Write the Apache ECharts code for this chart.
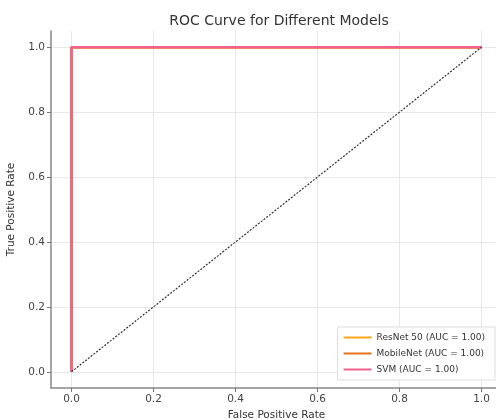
<!DOCTYPE html>
<html lang="en">
<head>
    <meta charset="utf-8" />
    <title>ROC Curve</title>
    <script type="text/javascript" src="https://cdn.jsdelivr.net/npm/echarts@6/dist/echarts.min.js"></script>
    <style type="text/css">
        body { margin: 0; background: #fff; }
    </style>
</head>
<body>
    <div id="main" style="width:496px;height:420px;"></div>
    <script type="text/javascript">
        // ROC points (fpr, tpr)
        var modelNames = ['ResNet 50 (AUC = 1.00)', 'MobileNet (AUC = 1.00)', 'SVM (AUC = 1.00)'];
        var modelColors = ['#ffa41b', '#e8731c', '#f0628a'];
        var fprResNet = [0, 0, 1];
        var tprResNet = [0, 1, 1];
        var fprMobile = [0, 0, 1];
        var tprMobile = [0, 1, 1];
        var fprSvm = [0, 0, 1];
        var tprSvm = [0, 1, 1];
        var chanceLine = [[0, 0], [1, 1]];
        var tickValues = [0, 0.2, 0.4, 0.6, 0.8, 1.0];

        function pairs(xs, ys) {
            var out = [];
            for (var i = 0; i < xs.length; i++) out.push([xs[i], ys[i]]);
            return out;
        }

        var myChart = echarts.init(document.getElementById('main'));
        var fontName = 'DejaVu Sans';

        function axisCfg(name, gap) {
            return {
                type: 'value',
                min: -0.05,
                max: 1.05,
                name: name,
                nameLocation: 'middle',
                nameGap: gap,
                nameTextStyle: { fontFamily: fontName, fontSize: 10.5, color: '#333' },
                axisLine: { show: true, onZero: false, lineStyle: { color: '#888', width: 1.5 } },
                axisTick: { show: true, customValues: tickValues, length: 4, lineStyle: { color: '#777' } },
                axisLabel: {
                    customValues: tickValues,
                    margin: 6,
                    fontFamily: fontName, fontSize: 10.5, color: '#444',
                    formatter: function (v) { return v.toFixed(1); }
                },
                splitLine: { show: true, lineStyle: { color: '#e8e8e8', width: 1 } }
            };
        }

        var series = [
            { name: modelNames[0], data: pairs(fprResNet, tprResNet) },
            { name: modelNames[1], data: pairs(fprMobile, tprMobile) },
            { name: modelNames[2], data: pairs(fprSvm, tprSvm) }
        ].map(function (s, i) {
            return {
                name: s.name,
                type: 'line',
                data: s.data,
                symbol: 'none',
                color: modelColors[i],
                lineStyle: { color: modelColors[i], width: 2.5 },
                z: 3 + i
            };
        });
        series.push({
            name: 'chance',
            type: 'line',
            data: chanceLine,
            symbol: 'none',
            lineStyle: { color: '#333', width: 1.2, type: [2, 1.5] },
            z: 10
        });

        var option = {
            animation: false,
            title: {
                text: 'ROC Curve for Different Models',
                left: 274,
                top: 9,
                textAlign: 'center',
                textStyle: { fontFamily: fontName, fontSize: 14, fontWeight: 'normal', color: '#333' }
            },
            legend: {
                data: modelNames,
                orient: 'vertical',
                right: 1,
                bottom: 40,
                itemWidth: 28,
                itemHeight: 2,
                itemGap: 7,
                padding: [6, 10, 6, 6],
                backgroundColor: '#fff',
                borderColor: '#ddd',
                borderWidth: 1,
                icon: 'rect',
                textStyle: { fontFamily: fontName, fontSize: 9, color: '#333' }
            },
            grid: {
                left: 51,
                right: -6,
                top: 31,
                bottom: 32,
                outerBoundsMode: 'none'
            },
            xAxis: axisCfg('False Positive Rate', 18),
            yAxis: axisCfg('True Positive Rate', 34),
            series: series
        };
        myChart.setOption(option, true);
    </script>
</body>
</html>
